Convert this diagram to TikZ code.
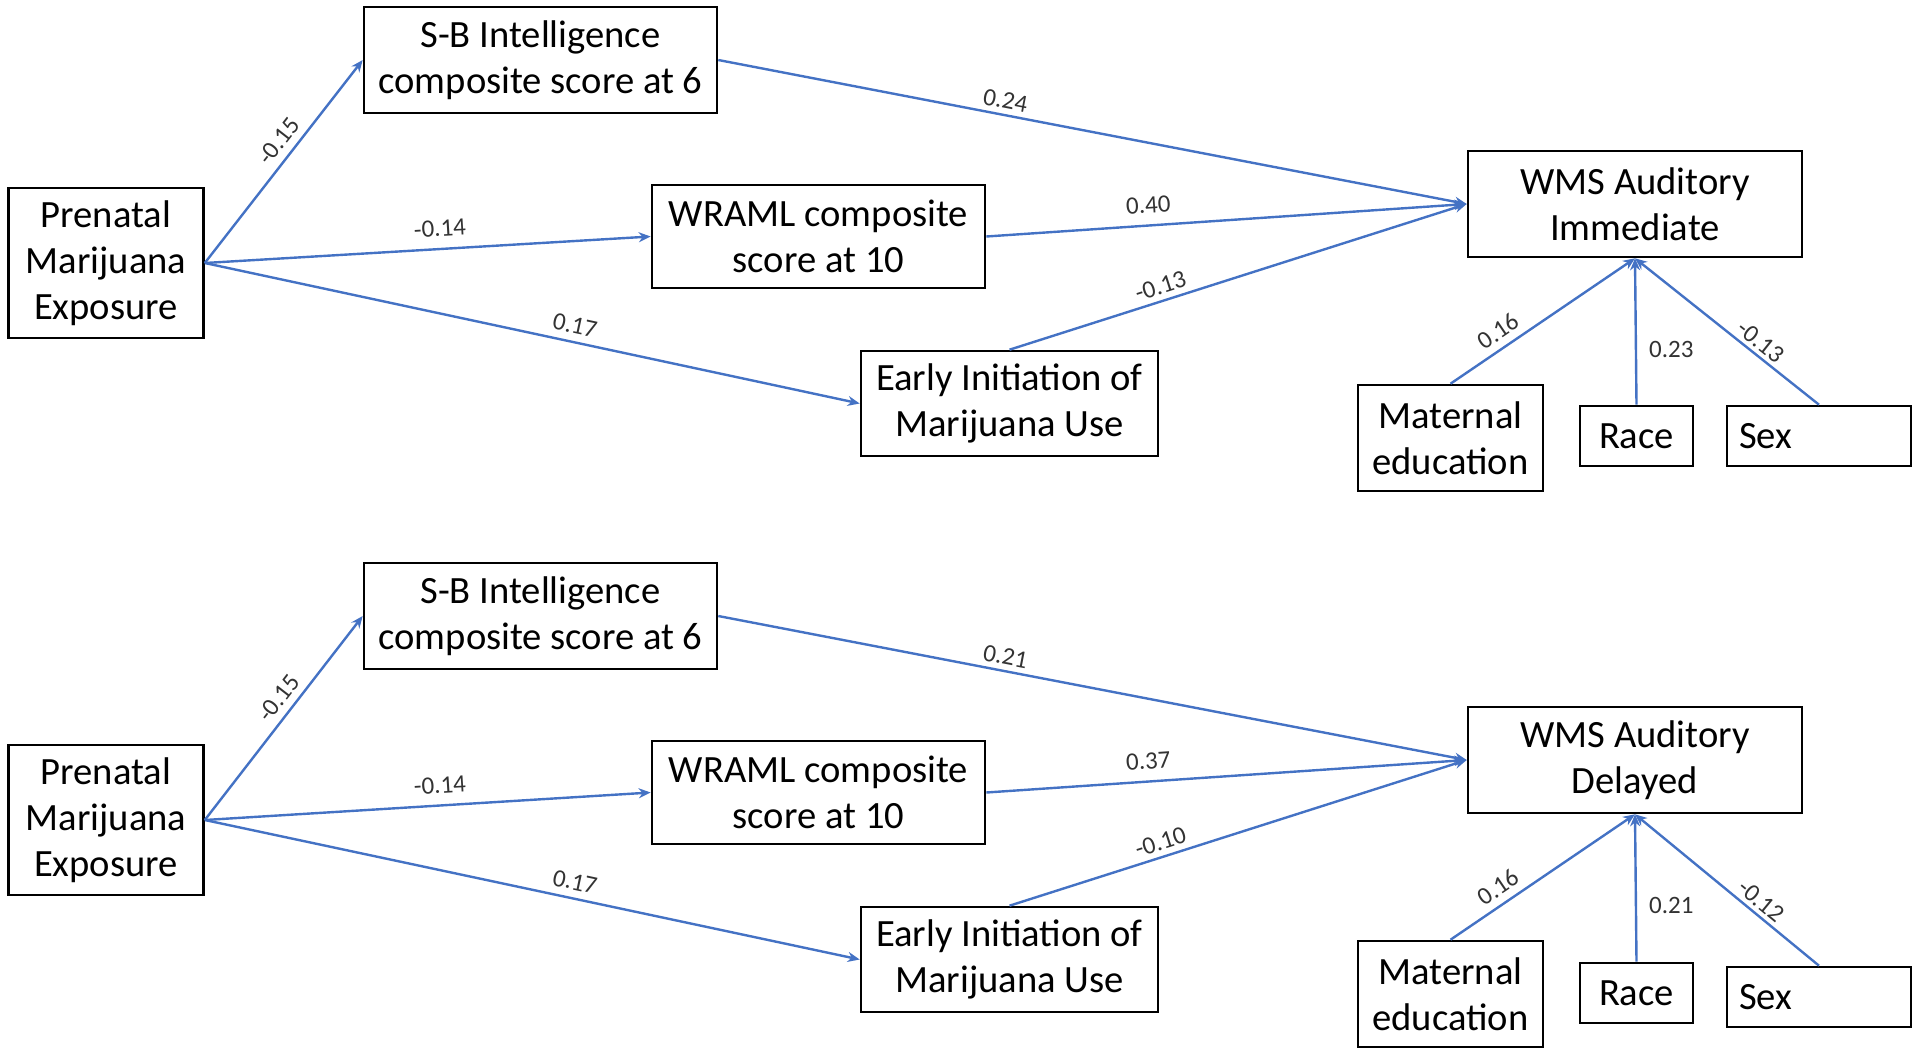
\documentclass[tikz,border=0pt]{standalone}
\usepackage{fontspec}
\setmainfont{Carlito}
\usetikzlibrary{arrows.meta}
\definecolor{arrowblue}{RGB}{68,114,196}
\begin{document}
\begin{tikzpicture}[x=0.5pt,y=-0.5pt,
  box/.style={draw, line width=1.3pt, align=center, inner sep=0pt, font=\fontsize{19.3}{23}\selectfont},
  conn/.style={draw=arrowblue, line width=1.2pt, -{Stealth[length=6pt,width=5pt]}},
  lab/.style={font=\fontsize{12.5}{14}\selectfont, inner sep=1pt, text=black!80}]
\useasboundingbox (0,0) rectangle (1929,1056);

% ---------- top panel ----------
\node[box, minimum width=97.5pt, minimum height=75pt] (pre1) at (106,263) {Prenatal\\Marijuana\\Exposure};
\node[box, minimum width=176.5pt, minimum height=53pt] (sb1) at (540.5,60) {S-B Intelligence\\composite score at 6};
\node[box, minimum width=166.5pt, minimum height=51.5pt] (wr1) at (818.5,236.5) {WRAML composite\\score at 10};
\node[box, minimum width=148.5pt, minimum height=52.5pt] (ea1) at (1009.5,403.5) {Early Initiation of\\Marijuana Use};
\node[box, minimum width=167pt, minimum height=53pt] (wms1) at (1635,204) {WMS Auditory\\Immediate};
\node[box, minimum width=92.5pt, minimum height=53pt] (me1) at (1450.5,438) {Maternal\\education};
\node[box, minimum width=56.5pt, minimum height=30pt] (ra1) at (1636.5,436) {Race};
\node[box, text width=80pt, inner xsep=6pt, align=left, minimum height=30pt] (sx1) at (1819,436) {Sex};

\draw[conn] (pre1.east) -- node[lab, pos=0.55, sloped, above=2.5pt] {-0.15} (sb1.west);
\draw[conn] (pre1.east) -- node[lab, pos=0.53, sloped, above=4.5pt] {-0.14} (wr1.west);
\draw[conn] (pre1.east) -- node[lab, pos=0.56, sloped, above=2.5pt] {0.17} (ea1.west);
\draw[conn] (sb1.east) -- node[lab, pos=0.38, sloped, above=1.6pt] {0.24} (wms1.west);
\draw[conn] (wr1.east) -- node[lab, pos=0.34, sloped, above=4.5pt] {0.40} (wms1.west);
\draw[conn] (ea1.north) -- node[lab, pos=0.34, sloped, above=1.6pt] {-0.13} (wms1.west);
\draw[conn] (me1.north) -- node[lab, pos=0.31, sloped, above=2.5pt] {0.16} (wms1.south);
\draw[conn] (ra1.north) -- node[lab, pos=0.38, right=5pt] {0.23} (wms1.south);
\draw[conn] (sx1.north) -- node[lab, pos=0.36, sloped, above=1pt] {-0.13} (wms1.south);

% ---------- bottom panel ----------
\begin{scope}[shift={(0,556)}]
\node[box, minimum width=97.5pt, minimum height=75pt] (pre2) at (106,264) {Prenatal\\Marijuana\\Exposure};
\node[box, minimum width=176.5pt, minimum height=53pt] (sb2) at (540.5,60) {S-B Intelligence\\composite score at 6};
\node[box, minimum width=166.5pt, minimum height=51.5pt] (wr2) at (818.5,236.5) {WRAML composite\\score at 10};
\node[box, minimum width=148.5pt, minimum height=52.5pt] (ea2) at (1009.5,403.5) {Early Initiation of\\Marijuana Use};
\node[box, minimum width=167pt, minimum height=53pt] (wms2) at (1635,204) {WMS Auditory\\Delayed};
\node[box, minimum width=92.5pt, minimum height=53pt] (me2) at (1450.5,438) {Maternal\\education};
\node[box, minimum width=56.5pt, minimum height=30pt] (ra2) at (1636.5,437) {Race};
\node[box, text width=80pt, inner xsep=6pt, align=left, minimum height=30pt] (sx2) at (1819,441) {Sex};

\draw[conn] (pre2.east) -- node[lab, pos=0.55, sloped, above=2.5pt] {-0.15} (sb2.west);
\draw[conn] (pre2.east) -- node[lab, pos=0.53, sloped, above=4.5pt] {-0.14} (wr2.west);
\draw[conn] (pre2.east) -- node[lab, pos=0.56, sloped, above=2.5pt] {0.17} (ea2.west);
\draw[conn] (sb2.east) -- node[lab, pos=0.38, sloped, above=1.6pt] {0.21} (wms2.west);
\draw[conn] (wr2.east) -- node[lab, pos=0.34, sloped, above=4.5pt] {0.37} (wms2.west);
\draw[conn] (ea2.north) -- node[lab, pos=0.34, sloped, above=1.6pt] {-0.10} (wms2.west);
\draw[conn] (me2.north) -- node[lab, pos=0.31, sloped, above=2.5pt] {0.16} (wms2.south);
\draw[conn] (ra2.north) -- node[lab, pos=0.38, right=5pt] {0.21} (wms2.south);
\draw[conn] (sx2.north) -- node[lab, pos=0.36, sloped, above=1pt] {-0.12} (wms2.south);
\end{scope}
\end{tikzpicture}
\end{document}
